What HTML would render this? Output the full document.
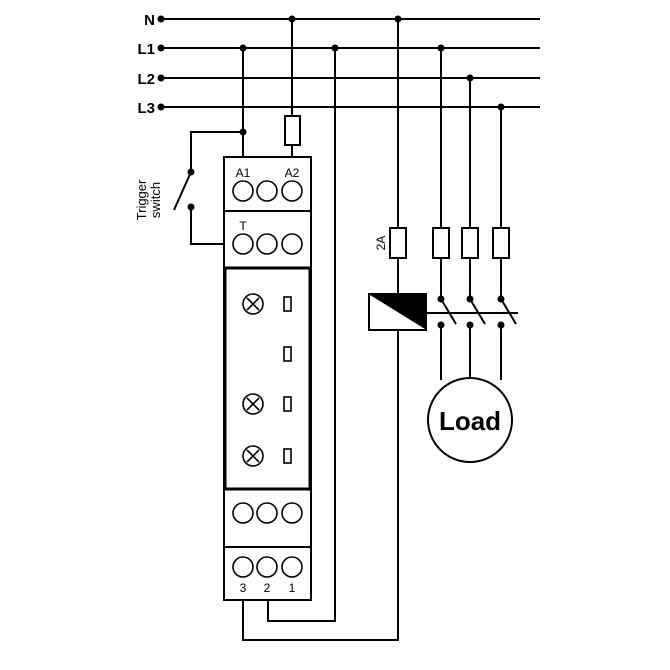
<!DOCTYPE html>
<html><head><style>body{margin:0;background:#fff}svg{display:block}</style></head><body>
<svg width="670" height="670" viewBox="0 0 670 670" font-family="'Liberation Sans',sans-serif">
<rect width="670" height="670" fill="#fff"/>
<g stroke="#000" stroke-width="2" fill="none">
<line x1="161" y1="19" x2="540" y2="19"/>
<line x1="161" y1="48" x2="540" y2="48"/>
<line x1="161" y1="78" x2="540" y2="78"/>
<line x1="161" y1="107" x2="540" y2="107"/>
<line x1="243" y1="48" x2="243" y2="157"/>
<line x1="292" y1="19" x2="292" y2="157"/>
<polyline points="243,132 191,132 191,172"/>
<line x1="191" y1="172" x2="174" y2="210"/>
<polyline points="191,207 191,244 224,244"/>
<polyline points="335,48 335,621 268,621 268,600"/>
<polyline points="398,19 398,640 243,640 243,600"/>
<line x1="441" y1="48" x2="441" y2="299"/><line x1="441" y1="325" x2="441" y2="380"/>
<line x1="470" y1="78" x2="470" y2="299"/><line x1="470" y1="325" x2="470" y2="378"/>
<line x1="501" y1="107" x2="501" y2="299"/><line x1="501" y1="325" x2="501" y2="380"/>
<rect x="224" y="157" width="87" height="443" fill="#fff"/>
<line x1="224" y1="211" x2="311" y2="211"/>
<line x1="224" y1="268" x2="311" y2="268"/>
<line x1="224" y1="489" x2="311" y2="489"/>
<line x1="224" y1="547" x2="311" y2="547"/>
<rect x="225" y="268" width="85" height="221" stroke-width="3"/>
<rect x="285" y="116" width="15" height="29" fill="#fff"/>
<rect x="390" y="228" width="16" height="30" fill="#fff"/>
<rect x="433" y="228" width="16" height="30" fill="#fff"/>
<rect x="462" y="228" width="16" height="30" fill="#fff"/>
<rect x="493" y="228" width="16" height="30" fill="#fff"/>
<rect x="369" y="294" width="57" height="36" fill="#fff"/>
<line x1="426" y1="313" x2="518" y2="313"/>
<line x1="441" y1="299" x2="456" y2="324"/>
<line x1="470" y1="299" x2="485" y2="324"/>
<line x1="501" y1="299" x2="516" y2="324"/>
<circle cx="470" cy="420" r="42" fill="#fff"/>
<g stroke-width="1.6">
<circle cx="243" cy="191" r="10"/><circle cx="267" cy="191" r="10"/><circle cx="292" cy="191" r="10"/>
<circle cx="243" cy="244" r="10"/><circle cx="267" cy="244" r="10"/><circle cx="292" cy="244" r="10"/>
<circle cx="243" cy="513" r="10"/><circle cx="267" cy="513" r="10"/><circle cx="292" cy="513" r="10"/>
<circle cx="243" cy="567" r="10"/><circle cx="267" cy="567" r="10"/><circle cx="292" cy="567" r="10"/>
<rect x="284" y="297" width="7" height="14"/><rect x="284" y="347" width="7" height="14"/>
<rect x="284" y="397" width="7" height="14"/><rect x="284" y="449" width="7" height="14"/>
</g>
<g stroke-width="1.6">
<circle cx="253" cy="304" r="10"/><path d="M247 298l12 12M259 298l-12 12"/>
<circle cx="253" cy="404" r="10"/><path d="M247 398l12 12M259 398l-12 12"/>
<circle cx="253" cy="456" r="10"/><path d="M247 450l12 12M259 450l-12 12"/>
</g>
</g>
<polygon points="370,295 425,295 425,329" fill="#000"/>
<g fill="#000">
<circle cx="161" cy="19" r="3.5"/><circle cx="161" cy="48" r="3.5"/><circle cx="161" cy="78" r="3.5"/><circle cx="161" cy="107" r="3.5"/>
<circle cx="292" cy="19" r="3.5"/><circle cx="398" cy="19" r="3.5"/>
<circle cx="243" cy="48" r="3.5"/><circle cx="335" cy="48" r="3.5"/><circle cx="441" cy="48" r="3.5"/>
<circle cx="470" cy="78" r="3.5"/><circle cx="501" cy="107" r="3.5"/>
<circle cx="243" cy="132" r="3.5"/><circle cx="191" cy="172" r="3.5"/><circle cx="191" cy="207" r="3.5"/>
<circle cx="441" cy="299" r="3.5"/><circle cx="470" cy="299" r="3.5"/><circle cx="501" cy="299" r="3.5"/>
<circle cx="441" cy="325" r="3.5"/><circle cx="470" cy="325" r="3.5"/><circle cx="501" cy="325" r="3.5"/>
</g>
<g font-weight="bold" font-size="15" text-anchor="end">
<text x="155" y="25">N</text><text x="155" y="54">L1</text><text x="155" y="84">L2</text><text x="155" y="113">L3</text>
</g>
<g font-size="12" text-anchor="middle">
<text x="243" y="177">A1</text><text x="292" y="177">A2</text>
<text x="243" y="230">T</text>
<text x="243" y="592">3</text><text x="267" y="592">2</text><text x="292" y="592">1</text>
</g>
<text transform="translate(385,243) rotate(-90)" font-size="12" text-anchor="middle">2A</text>
<text transform="translate(146,200) rotate(-90)" font-size="13" text-anchor="middle">Trigger</text>
<text transform="translate(160,200) rotate(-90)" font-size="13" text-anchor="middle">switch</text>
<text x="470" y="430" font-size="26" font-weight="bold" text-anchor="middle">Load</text>
</svg>
</body></html>
